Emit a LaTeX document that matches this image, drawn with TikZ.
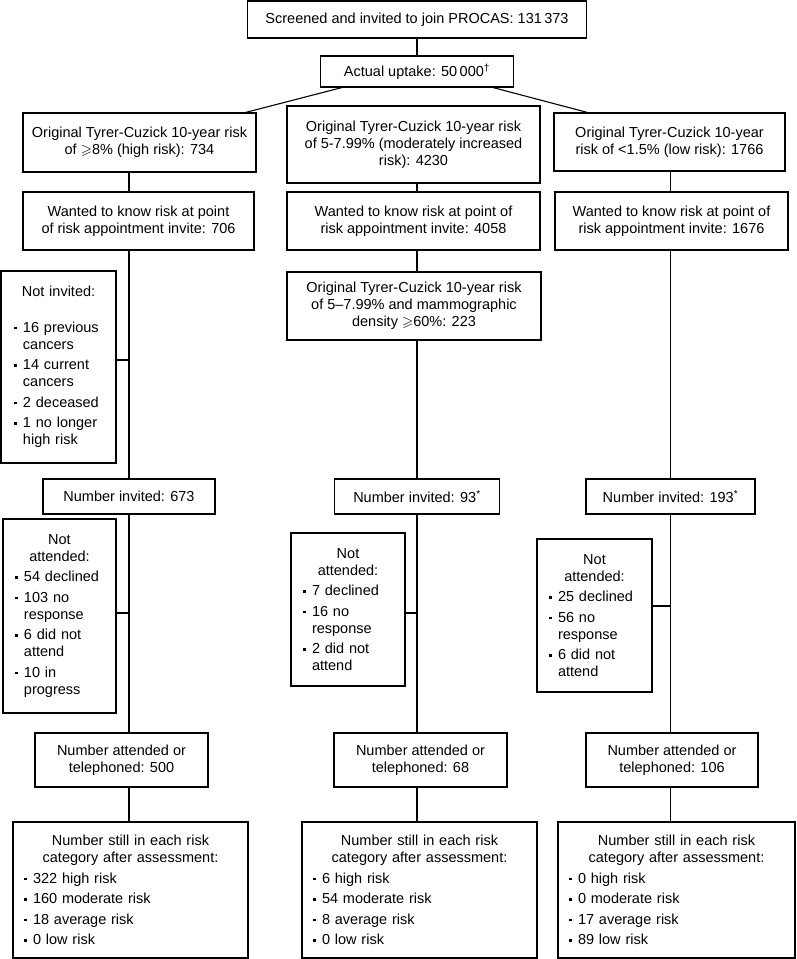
\documentclass[tikz,border=0pt]{standalone}
\usepackage{amsmath}
\usepackage{amssymb}
\usepackage{fontspec}
\setmainfont{Liberation Sans}
\usepackage{tikz}

\newcommand{\bitem}[1]{\par\vspace{3.5pt}\hangindent=9pt\hangafter=1\noindent\makebox[9pt][l]{\rule[3pt]{2.6pt}{2.6pt}}#1}

\begin{document}
\begin{tikzpicture}[x=1pt,y=-1pt,
    frame/.style={draw, line width=1.1pt, inner sep=2pt,
        font=\fontsize{14.5}{17}\selectfont},
    box/.style={frame, align=center},
    listbox/.style={frame, inner xsep=12pt},
    conn/.style={line width=1.1pt}]
    \useasboundingbox (0,0) rectangle (796,959);

    % 顶部方框
    \node[box, minimum width=339pt, minimum height=37pt] (screen) at (417,19.5)
        {Screened and invited to join PROCAS: 131\,373};
    \node[box, minimum width=193pt, minimum height=31pt] (uptake) at (417,71.5)
        {Actual uptake: 50\,000\textsuperscript{\textdagger}};

    % 三类原始风险
    \node[box, minimum width=233pt, minimum height=59pt] (high) at (139.5,142.5)
        {Original Tyrer-Cuzick 10-year risk\\ of $\geqslant$8\% (high risk): 734};
    \node[box, minimum width=253pt, minimum height=77pt] (mod) at (413.5,144.5)
        {Original Tyrer-Cuzick 10-year risk\\ of 5-7.99\% (moderately increased\\ risk): 4230};
    \node[box, minimum width=231pt, minimum height=58pt] (low) at (669.5,142)
        {Original Tyrer-Cuzick 10-year\\ risk of <1.5\% (low risk): 1766};

    % 想知道风险
    \node[box, minimum width=231pt, minimum height=58pt] (want1) at (138.5,221)
        {Wanted to know risk at point\\ of risk appointment invite: 706};
    \node[box, minimum width=253pt, minimum height=58pt] (want2) at (413.5,221)
        {Wanted to know risk at point of\\ risk appointment invite: 4058};
    \node[box, minimum width=233pt, minimum height=58pt] (want3) at (671.5,221)
        {Wanted to know risk at point of\\ risk appointment invite: 1676};

    % 未邀请 / 乳腺密度
    \node[listbox, inner xsep=13pt, text width=89pt, minimum width=115pt, minimum height=192pt] (notinv) at (58.5,367)
        {\centering Not invited:\par\vspace{15pt}\raggedright
        \bitem{16 previous\newline cancers}
        \bitem{14 current\newline cancers}
        \bitem{2 deceased}
        \bitem{1 no longer\newline high risk}\par};
    \node[box, minimum width=254pt, minimum height=68pt] (dens) at (414,306)
        {Original Tyrer-Cuzick 10-year risk\\ of 5--7.99\% and mammographic\\ density $\geqslant$60\%: 223};

    % 邀请人数
    \node[box, minimum width=172pt, minimum height=35pt] (inv1) at (129,496.5) {Number invited: 673};
    \node[box, minimum width=165pt, minimum height=35pt] (inv2) at (417,496.5) {Number invited: 93\textsuperscript{*}};
    \node[box, minimum width=169pt, minimum height=35pt] (inv3) at (670.5,496.5) {Number invited: 193\textsuperscript{*}};

    % 未参加
    \node[listbox, text width=89pt, minimum width=113pt, minimum height=194pt] (notatt1) at (59.5,616)
        {\centering Not\\ attended:\par\raggedright
        \bitem{54 declined}
        \bitem{103 no\newline response}
        \bitem{6 did not\newline attend}
        \bitem{10 in\newline progress}\par};
    \node[listbox, text width=90pt, minimum width=114pt, minimum height=153pt] (notatt2) at (348,609.5)
        {\centering Not\\ attended:\par\raggedright
        \bitem{7 declined}
        \bitem{16 no\newline response}
        \bitem{2 did not\newline attend}\par};
    \node[listbox, text width=91pt, minimum width=115pt, minimum height=153pt] (notatt3) at (594.5,615.5)
        {\centering Not\\ attended:\par\raggedright
        \bitem{25 declined}
        \bitem{56 no\newline response}
        \bitem{6 did not\newline attend}\par};

    % 参加或电话
    \node[box, minimum width=173pt, minimum height=54pt] (att1) at (121.5,760)
        {Number attended or\\ telephoned: 500};
    \node[box, minimum width=173pt, minimum height=54pt] (att2) at (420.5,760)
        {Number attended or\\ telephoned: 68};
    \node[box, minimum width=172pt, minimum height=54pt] (att3) at (672,760)
        {Number attended or\\ telephoned: 106};

    % 评估后
    \node[listbox, inner xsep=11pt, text width=213pt, minimum width=235pt, minimum height=136pt] (fin1) at (130.5,890)
        {\centering Number still in each risk\\ category after assessment:\par\raggedright
        \bitem{322 high risk}
        \bitem{160 moderate risk}
        \bitem{18 average risk}
        \bitem{0 low risk}\par};
    \node[listbox, inner xsep=11pt, text width=213pt, minimum width=235pt, minimum height=136pt] (fin2) at (419.5,890)
        {\centering Number still in each risk\\ category after assessment:\par\raggedright
        \bitem{6 high risk}
        \bitem{54 moderate risk}
        \bitem{8 average risk}
        \bitem{0 low risk}\par};
    \node[listbox, inner xsep=11pt, text width=215pt, minimum width=237pt, minimum height=136pt] (fin3) at (676.5,890)
        {\centering Number still in each risk\\ category after assessment:\par\raggedright
        \bitem{0 high risk}
        \bitem{0 moderate risk}
        \bitem{17 average risk}
        \bitem{89 low risk}\par};

    % 连线：顶部
    \draw[conn] (screen) -- (uptake);
    \draw[conn] ([xshift=22pt]uptake.south west) -- ([xshift=-11pt]high.north east);
    \draw[conn] ([xshift=-21pt]uptake.south east) -- ([xshift=34pt]low.north west);

    % 连线：左列
    \draw[conn] (high.south -| inv1) -- (want1.north -| inv1);
    \draw[conn] (want1.south -| inv1) -- (inv1);
    \draw[conn] ([yshift=7pt]notinv.east) -- ([yshift=7pt]notinv.east -| inv1);
    \draw[conn] (inv1) -- (att1.north -| inv1);
    \draw[conn] ([yshift=3pt]notatt1.east) -- ([yshift=3pt]notatt1.east -| inv1);
    \draw[conn] (att1.south -| inv1) -- (fin1.north -| inv1);

    % 连线：中列
    \draw[conn] (mod.south -| inv2) -- (want2.north -| inv2);
    \draw[conn] (want2.south -| inv2) -- (dens.north -| inv2);
    \draw[conn] (dens.south -| inv2) -- (inv2);
    \draw[conn] (inv2) -- (att2.north -| inv2);
    \draw[conn] ([yshift=-3.5pt]notatt2.east) -- ([yshift=-3.5pt]notatt2.east -| inv2);
    \draw[conn] (att2.south -| inv2) -- (fin2.north -| inv2);

    % 连线：右列
    \draw[conn] (low.south -| inv3) -- (want3.north -| inv3);
    \draw[conn] (want3.south -| inv3) -- (inv3);
    \draw[conn] (inv3) -- (att3.north -| inv3);
    \draw[conn] ([yshift=9.5pt]notatt3.east) -- ([yshift=9.5pt]notatt3.east -| inv3);
    \draw[conn] (att3.south -| inv3) -- (fin3.north -| inv3);
\end{tikzpicture}
\end{document}
